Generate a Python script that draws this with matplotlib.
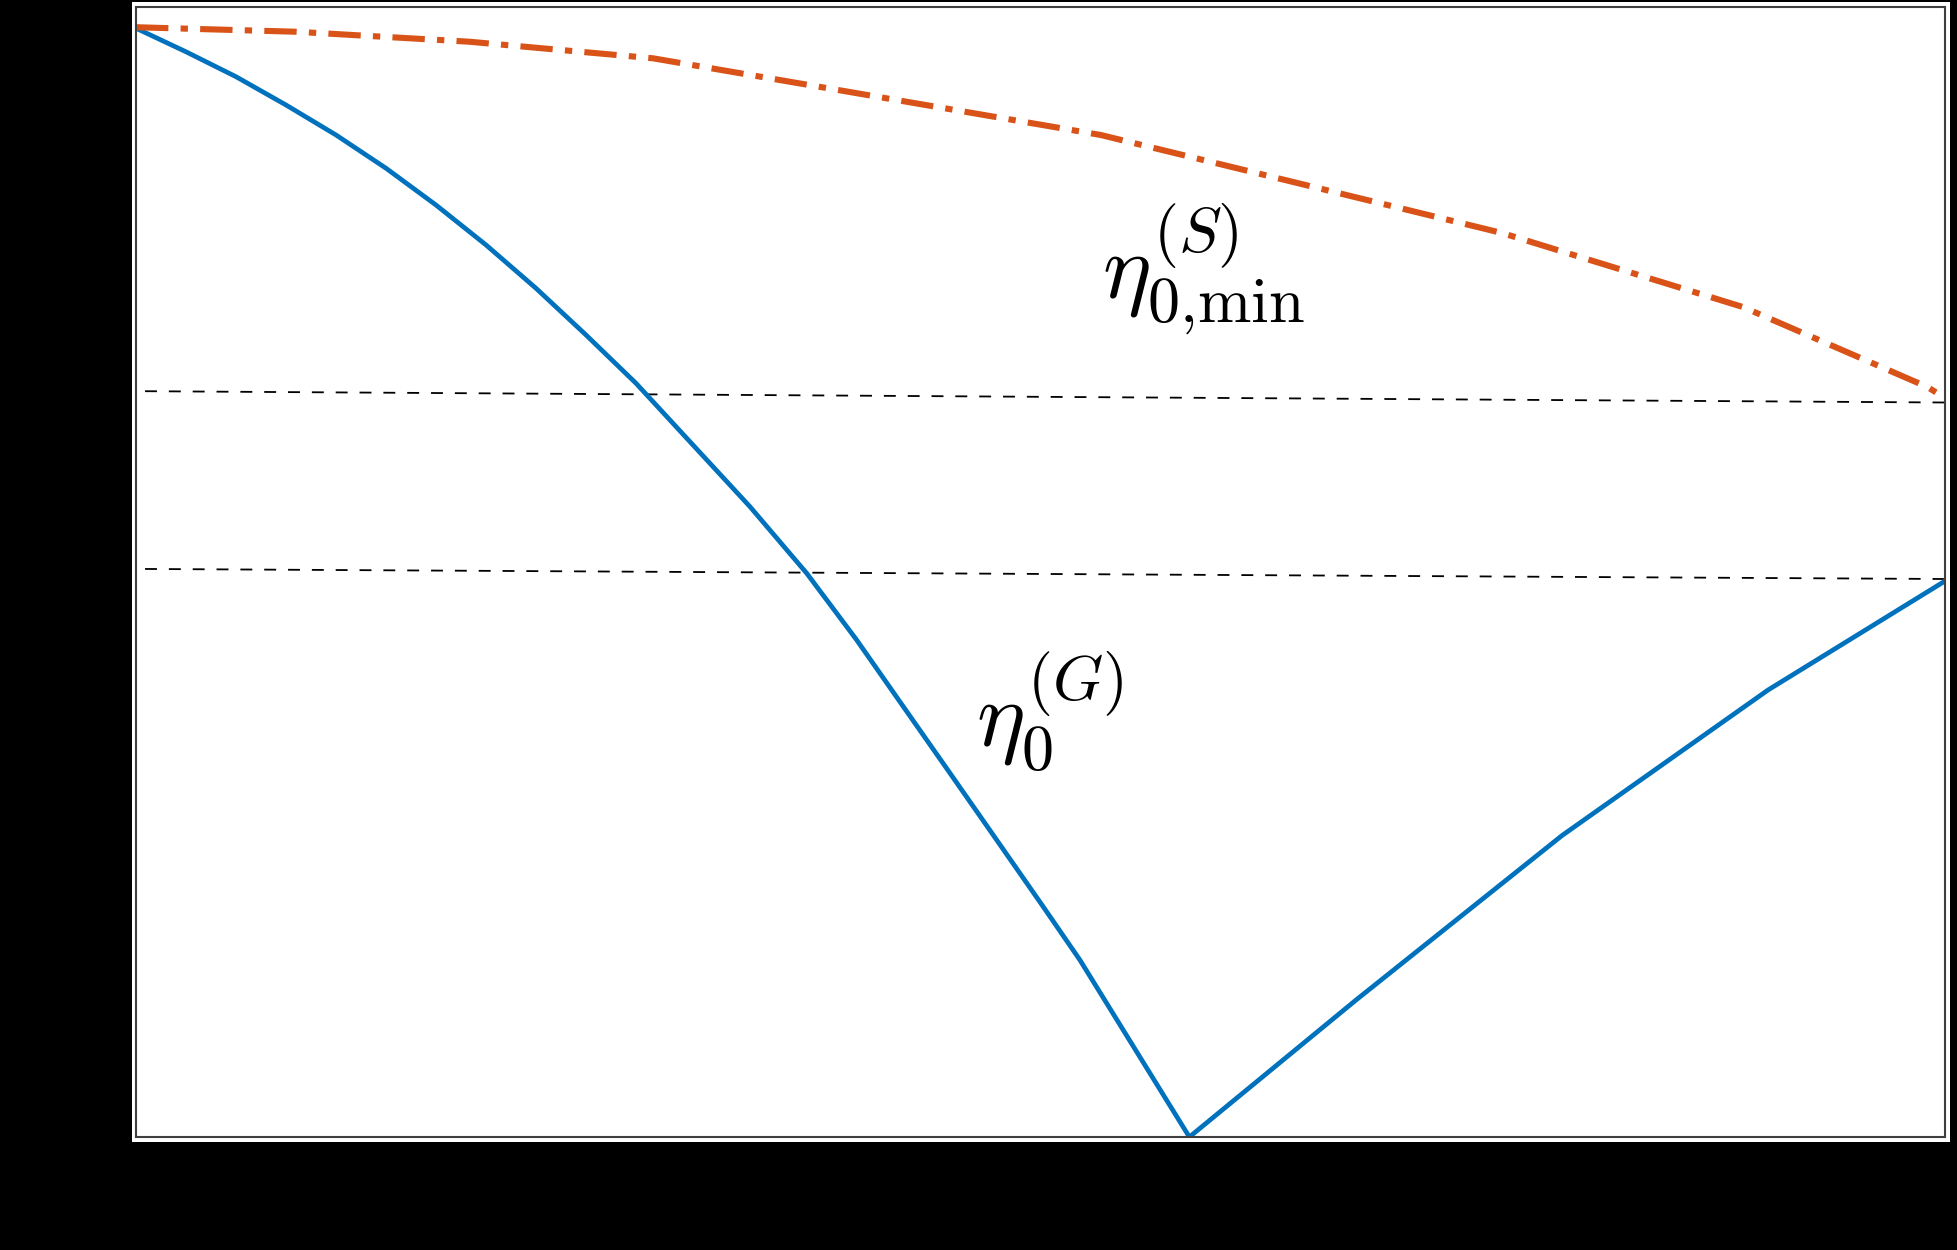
import matplotlib
matplotlib.use("Agg")
import matplotlib.pyplot as plt
from matplotlib.patches import Rectangle

plt.rcParams['mathtext.fontset'] = 'cm'

# eta_0^(G): falls to a sharp minimum then rises again
g_x = [0.0, 0.0276, 0.0553, 0.0829, 0.1106, 0.1382, 0.1658, 0.1935, 0.2211,
       0.2488, 0.2764, 0.3394, 0.3708, 0.3984, 0.4242, 0.4500, 0.4758,
       0.5015, 0.5218, 0.5823, 0.6744, 0.7883, 0.9022, 1.0]
g_y = [0.9812, 0.9604, 0.9383, 0.9133, 0.8867, 0.8573, 0.8248, 0.7894, 0.7511,
       0.7097, 0.6670, 0.5578, 0.4988, 0.4398, 0.3808, 0.3219, 0.2628,
       0.2038, 0.1566, 0.0, 0.1212, 0.2668, 0.3956, 0.4920]

# eta_0,min^(S): slow decrease
s_x = [0.0, 0.0884, 0.1841, 0.2858, 0.5334, 0.7551, 0.8883, 0.9903, 1.0]
s_y = [0.9821, 0.9781, 0.9693, 0.9546, 0.8867, 0.8000, 0.7345, 0.6637, 0.654]

# two reference levels (slightly tilted)
ref_x = [0.005, 1.0]
ref_upper = [0.660, 0.650]
ref_lower = [0.5027, 0.4938]

fig = plt.figure(figsize=(19.58, 12.5), dpi=100, facecolor='black')
fig.patches.append(Rectangle((132 / 1958, 108 / 1250), 1818 / 1958, 1140 / 1250,
                             transform=fig.transFigure, facecolor='white',
                             edgecolor='none', zorder=-1))
ax = fig.add_axes([136 / 1958, 113 / 1250, 1809 / 1958, 1130 / 1250])
ax.set_zorder(1)
ax.set_facecolor('white')

ax.plot(ref_x, ref_upper, color='black', lw=1.3, dashes=(6.6, 6.6))
ax.plot(ref_x, ref_lower, color='black', lw=1.3, dashes=(6.6, 6.6))
ax.plot(g_x, g_y, color='#0072BD', lw=3.4)
ax.plot(s_x, s_y, color='#D95319', lw=4.4, dashes=(5.3, 2.0, 1.2, 2.0))

ax.text(0.590, 0.768, r'$\eta_{0{,}\mathrm{min}}^{(S)}$', fontsize=66,
        ha='center', va='center')
ax.text(0.505, 0.376, r'$\eta_0^{(G)}$', fontsize=66, ha='center', va='center')

ax.set_xlim(0, 1)
ax.set_ylim(0, 1)
ax.set_xticks([])
ax.set_yticks([])
for sp in ax.spines.values():
    sp.set_color('#404040')
    sp.set_linewidth(1.5)

fig.savefig('out.png', dpi=100, facecolor='black')
